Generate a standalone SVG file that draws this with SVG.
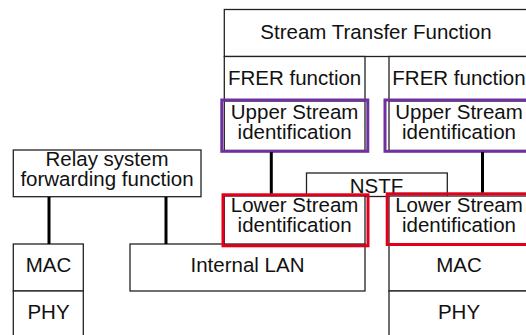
<svg xmlns="http://www.w3.org/2000/svg" width="526" height="335" viewBox="0 0 526 335">
<style>
.box{fill:#fff;stroke:#222;stroke-width:1.3}
.t{font-family:"Liberation Sans",Arial,sans-serif;font-size:20.5px;fill:#111;text-anchor:middle}
.up{fill:none;stroke:#7030a0;stroke-width:3}
.lo{fill:none;stroke:#e0001b;stroke-width:3}
.c{stroke:#000;stroke-width:3;fill:none}
</style>
<rect width="526" height="335" fill="#fff"/>
<g id="stf"><rect class="box" x="224.3" y="9.5" width="320" height="47"/><text class="t" x="376" y="38.5">Stream Transfer Function</text></g>
<g id="frer1"><rect class="box" x="224.3" y="56.5" width="140.7" height="44.5"/><text class="t" x="294.6" y="85">FRER function</text></g>
<g id="frer2"><rect class="box" x="389" y="56.5" width="150" height="44.5"/><text class="t" x="459" y="85">FRER function</text></g>
<g id="nstf"><rect class="box" x="306.5" y="173" width="140.8" height="23.5"/><text class="t" x="376.5" y="192.5">NSTF</text></g>
<g id="usi1"><rect class="box" x="224.3" y="101" width="140.7" height="49.5"/><rect class="up" x="221.8" y="100" width="146" height="51.3"/><text class="t" x="294.6" y="119">Upper Stream</text><text class="t" x="294.6" y="138.5">identification</text></g>
<g id="usi2"><rect class="box" x="389" y="101" width="150" height="49.5"/><rect class="up" x="385" y="100" width="160" height="51.3"/><text class="t" x="459" y="119">Upper Stream</text><text class="t" x="459" y="138.5">identification</text></g>
<g id="relay"><rect class="box" x="13.3" y="150" width="187.7" height="46.7"/><text class="t" x="107" y="166">Relay system</text><text class="t" x="107" y="186">forwarding function</text></g>
<g id="mac1"><rect class="box" x="13.3" y="244" width="70" height="47"/><text class="t" x="48.5" y="271.5">MAC</text></g>
<g id="phy1"><rect class="box" x="13.3" y="291" width="70" height="60"/><text class="t" x="48.5" y="319">PHY</text></g>
<g id="ilan"><rect class="box" x="130" y="244" width="235" height="47"/><text class="t" x="247.5" y="271.5">Internal LAN</text></g>
<g id="lsi1"><rect class="box" x="224.3" y="196" width="140.7" height="48"/><rect class="lo" x="223" y="194.8" width="145" height="51"/><text class="t" x="294.6" y="212">Lower Stream</text><text class="t" x="294.6" y="232">identification</text></g>
<g id="mac2"><rect class="box" x="389" y="244" width="150" height="47"/><text class="t" x="459" y="271.5">MAC</text></g>
<g id="phy2"><rect class="box" x="389" y="291" width="150" height="60"/><text class="t" x="459" y="319">PHY</text></g>
<g id="lsi2"><rect class="box" x="389" y="196" width="150" height="48"/><rect class="lo" x="387.2" y="193.8" width="160" height="50.7"/><text class="t" x="459" y="212">Lower Stream</text><text class="t" x="459" y="232">identification</text></g>
<g id="connectors">
<line class="c" x1="49" y1="197" x2="49" y2="244"/>
<line class="c" x1="166" y1="197" x2="166" y2="244"/>
<line class="c" x1="271.3" y1="152" x2="271.3" y2="193.5"/>
<line class="c" x1="482.5" y1="152" x2="482.5" y2="192.5"/>
</g>
</svg>
